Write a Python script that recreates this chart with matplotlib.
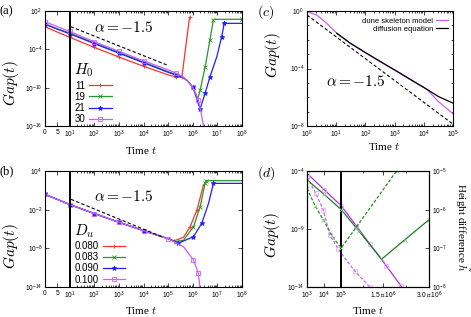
import numpy as np
import matplotlib
matplotlib.use('Agg')
import matplotlib.pyplot as plt
from matplotlib.ticker import NullLocator

plt.rcParams['mathtext.fontset'] = 'cm'
plt.rcParams['font.family'] = ['Liberation Sans', 'DejaVu Sans']

# ---- panel (a): gap vs time for several H0 (log10 of gap) ----
h0_labels = ['11', '19', '21', '30']
t_a11 = [0, 5, 10, 1e2, 1e3, 1e4, 1e5, 2e5, 3.6e5, 7.4e5]
g_a11 = [-0.45, -1.3, -2.1, -3.7, -5.2, -6.65, -8.0, -8.3, -8.4, 1.0]
t_a19 = [0, 5, 10, 1e2, 1e3, 1e4, 1e5, 2e5, 3.6e5, 6e5, 1e6, 1.3e6, 1.6e6, 2e6, 3.2e6, 5e6, 6.9e6, 8e6, 1e8]
g_a19 = [-0.03, -0.8, -1.45, -3.0, -4.5, -6.0, -7.5, -7.9, -8.25, -8.9, -9.9, -10.9, -11.7, -10.4, -6.7, -2.5, 0.6, 0.7, 0.7]
t_a21 = [0, 5, 10, 1e2, 1e3, 1e4, 1e5, 2e5, 3.6e5, 6e5, 1e6, 1.26e6, 1.66e6, 2e6, 3.16e6, 5e6, 9.5e6, 1.5e7, 1.9e7, 1e8]
g_a21 = [-0.03, -0.85, -1.55, -3.1, -4.6, -6.1, -7.6, -8.0, -8.3, -8.9, -9.95, -11.0, -12.5, -13.3, -10.9, -8.3, -5.15, -2.0, 0.07, 0.07]
t_a30 = [0, 5, 10, 1e2, 1e3, 1e4, 1e5, 2e5, 3.6e5, 6e5, 1e6, 1.3e6, 1.7e6, 2.2e6, 2.8e6]
g_a30 = [0.33, -0.45, -1.2, -2.8, -4.3, -5.8, -7.2, -7.7, -8.2, -8.9, -9.95, -10.9, -11.9, -14.0, -16.3]
guide_a_t = [11, 9e4]
guide_a_g = [-0.45, -6.45]

# ---- panel (b): gap vs time for several Du ----
du_labels = ['0.080', '0.083', '0.090', '0.100']
t_b080 = [0, 5, 10, 1e2, 1e3, 1e4, 1e5, 1.66e5, 4.2e5, 7.8e5, 1.48e6, 2.75e6]
g_b080 = [0.38, -0.4, -1.2, -2.6, -3.95, -5.25, -6.5, -6.85, -6.3, -4.65, -2.05, 1.9]
t_b083 = [0, 5, 10, 1e2, 1e3, 1e4, 1e5, 2e5, 4.2e5, 1.07e6, 2e6, 3.16e6, 3.6e6, 1e8]
g_b083 = [0.38, -0.4, -1.2, -2.6, -3.95, -5.25, -6.5, -6.95, -6.75, -4.65, -1.54, 2.1, 2.5, 2.5]
t_b090 = [0, 5, 10, 1e2, 1e3, 1e4, 1e5, 2.6e5, 1.07e6, 2.34e6, 4.4e6, 6.9e6, 1e8]
g_b090 = [0.38, -0.4, -1.2, -2.6, -3.95, -5.25, -6.5, -7.2, -6.2, -4.1, -1.0, 2.08, 2.08]
t_b100 = [0, 5, 10, 1e2, 1e3, 1e4, 1e5, 4.2e5, 1.07e6, 1.7e6, 2e6]
g_b100 = [0.38, -0.4, -1.2, -2.6, -3.95, -5.25, -6.5, -7.75, -9.8, -11.9, -14.5]
guide_b_t = [11.5, 6.5e4]
guide_b_g = [-0.4, -6.3]

# ---- panel (c): dune skeleton model vs diffusion equation ----
t_c = [1, 2.15, 4.7, 10.5, 29.5, 85, 316, 1175, 4365, 12600, 31600, 1e5]
g_dune = [-0.05, -0.28, -0.85, -1.55, -2.24, -2.82, -3.52, -4.2, -4.9, -5.44, -6.3, -7.15]
t_diff = [10.5, 29.5, 85, 316, 1175, 4365, 12600, 31600, 1e5]
g_diff = [-1.55, -2.22, -2.8, -3.5, -4.18, -4.88, -5.44, -5.95, -6.41]
guide_c_t = [1, 1e5]
guide_c_g = [-0.28, -7.87]

# ---- panel (d): gap (left) and height difference (right) ----
t_gap1 = [1e3, 1e4, 1.1e5, 6e5, 1.05e6, 1.6e6, 2.09e6]
g_gap1 = [-4.2, -5.6, -7.0, -8.7, -10.3, -12.2, -13.95]
t_gap2 = [1e3, 3.2e3, 9.1e3, 2.2e4, 6.9e4, 1.1e5, 5.5e5, 1.05e6]
g_gap2 = [-4.5, -5.9, -7.36, -9.5, -10.7, -11.1, -12.6, -14.0]
t_hd1 = [1e3, 1e4, 1.1e5, 7e5, 1.44e6, 2.2e6, 3e6]
g_hd1 = [-5.23, -5.6, -6.0, -6.56, -7.28, -6.78, -6.26]
t_hd2 = [1e3, 3e3, 9.1e3, 3.5e4, 1.1e5, 5.8e5, 1.93e6]
g_hd2 = [-5.45, -5.9, -6.26, -6.73, -6.99, -6.48, -5.0]

K = 1.79e-6


def fwd_ab(x):
    x = np.asarray(x, dtype=float)
    return np.where(x <= 10, x / 10.0, np.log10(np.maximum(x, 10.0)))


def inv_ab(y):
    y = np.asarray(y, dtype=float)
    return np.where(y <= 1, y * 10.0, 10.0 ** np.clip(y, 1, 300))


def fwd_d(x):
    x = np.asarray(x, dtype=float)
    return np.where(x <= 1e5, np.log10(np.clip(x, 1e-300, None)), 5 + (x - 1e5) * K)


def inv_d(y):
    y = np.asarray(y, dtype=float)
    return np.where(y <= 5, 10.0 ** np.clip(y, -300, 5), 1e5 + (y - 5) / K)


def p10(v):
    return 10.0 ** np.array(v)


def sup(e):
    return r'$\mathdefault{10^{%d}}$' % e


def style(ax):
    ax.tick_params(which='both', direction='in', top=True, right=True,
                   labelsize=4.8, width=0.5, pad=2)
    ax.tick_params(which='major', length=3)
    ax.tick_params(which='minor', length=1.5)
    for s in ax.spines.values():
        s.set_linewidth(0.8)


def labels(ax, xl, yl):
    # place axis labels by their centres
    ax.set_ylabel(r'$Gap(t)$', fontsize=11)
    ax.yaxis.label.set_verticalalignment('center')
    ax.yaxis.set_label_coords(*yl)
    ax.set_xlabel(r'Time $t$', fontdict=serif)
    ax.xaxis.label.set_verticalalignment('center')
    ax.xaxis.set_label_coords(*xl)


serif = {'family': 'Liberation Serif', 'size': 8}

fig = plt.figure(figsize=(4.71, 3.17), dpi=100)
ax_a = fig.add_axes([45 / 471, 1 - 126 / 317, 197 / 471, 115 / 317])
ax_b = fig.add_axes([45 / 471, 1 - 287 / 317, 197 / 471, 116 / 317])
ax_c = fig.add_axes([307 / 471, 1 - 126 / 317, 146 / 471, 115 / 317])
ax_d = fig.add_axes([307 / 471, 1 - 287 / 317, 122 / 471, 116 / 317])

cols = ['#ff3030', '#2a962a', '#2020ff', '#c860ff']
marks = ['+', 'x', '*', 's']
minor_log = [k * 10.0 ** d for d in range(1, 8) for k in range(2, 10)]

# panel (a)
for t, g, c, m, lab in zip([t_a11, t_a19, t_a21, t_a30], [g_a11, g_a19, g_a21, g_a30],
                           cols, marks, h0_labels):
    ax_a.plot(t, p10(g), color=c, lw=0.9, marker=m, ms=3.5, mew=0.6,
              mfc='none' if m == 's' else c, markevery=0.1, label=lab)
ax_a.plot(guide_a_t, p10(guide_a_g), 'k--', lw=0.8, dashes=(3, 2))

# panel (b)
for t, g, c, m, lab in zip([t_b080, t_b083, t_b090, t_b100], [g_b080, g_b083, g_b090, g_b100],
                           cols, marks, du_labels):
    ax_b.plot(t, p10(g), color=c, lw=0.9, marker=m, ms=3.5, mew=0.6,
              mfc='none' if m == 's' else c, markevery=0.1, label=lab)
ax_b.plot(guide_b_t, p10(guide_b_g), 'k--', lw=0.8, dashes=(3, 2))

for ax, ylo, yhi, yt, title, yl, xl, ay in [
        (ax_a, 1e-16, 1e2, [2, -4, -10, -16], r'$H_0$', (-0.175, 0.374), (0.485, -0.21), 0.86),
        (ax_b, 1e-14, 1e4, [4, -2, -8, -14], r'$D_u$', (-0.175, 0.353), (0.485, -0.20), 0.78)]:
    ax.set_xscale('function', functions=(fwd_ab, inv_ab))
    ax.set_yscale('log')
    ax.set_xlim(0, 1e8)
    ax.set_ylim(ylo, yhi)
    ax.set_xticks([0, 5] + [10.0 ** d for d in range(1, 9)])
    ax.set_xticklabels(['0', '5'] + [sup(d) for d in range(1, 9)])
    ax.set_xticks(minor_log, minor=True)
    ax.set_yticks([10.0 ** e for e in yt])
    ax.set_yticklabels([sup(e) for e in yt])
    ax.yaxis.set_minor_locator(NullLocator())
    style(ax)
    ax.axvline(10, color='k', lw=1.4)
    ax.text(0.40, ay, r'$\alpha = -1.5$', transform=ax.transAxes,
            ha='center', va='center', fontsize=11)
    labels(ax, xl, yl)
    leg = ax.legend(title=title, loc='upper left', bbox_to_anchor=(0.125, 0.60), frameon=False,
                    markerfirst=False, fontsize=7, title_fontsize=11, handlelength=2.3,
                    labelspacing=0.12, borderpad=0, handletextpad=0.4, numpoints=1)
    leg._legend_box.align = 'left'

# panel (c)
ax_c.plot(t_c, p10(g_dune), color='#c860ff', lw=0.9, label='dune skeleton model')
ax_c.plot(t_diff, p10(g_diff), color='k', lw=0.9, label='diffusion equation')
ax_c.plot(guide_c_t, p10(guide_c_g), 'k--', lw=0.8, dashes=(3, 2))
ax_c.set_xscale('log')
ax_c.set_yscale('log')
ax_c.set_xlim(1, 1e5)
ax_c.set_ylim(1e-8, 1)
ax_c.set_xticks([10.0 ** d for d in range(0, 6)])
ax_c.set_xticklabels([sup(d) for d in range(0, 6)])
ax_c.set_xticks([k * 10.0 ** d for d in range(0, 5) for k in range(2, 10)], minor=True)
ax_c.set_yticks([1, 1e-4, 1e-8])
ax_c.set_yticklabels([sup(0), sup(-4), sup(-8)])
ax_c.set_yticks([10.0 ** e for e in range(-7, 0) if e != -4], minor=True)
ax_c.set_yticklabels([], minor=True)
style(ax_c)
ax_c.text(0.336, 0.383, r'$\alpha = -1.5$', transform=ax_c.transAxes,
          ha='center', va='center', fontsize=11)
labels(ax_c, (0.527, -0.18), (-0.23, 0.617))
ax_c.legend(loc='upper right', bbox_to_anchor=(1.0, 0.99), frameon=False, markerfirst=False,
            fontsize=5.5, handlelength=1.5, labelspacing=0.1, borderpad=0.2,
            handletextpad=0.4)

# panel (d)
ax_d.set_xscale('function', functions=(fwd_d, inv_d))
ax_d.set_yscale('log')
ax_d.set_xlim(1e3, 3e6)
ax_d.set_ylim(1e-14, 1e-4)
tw = ax_d.twinx()
tw.set_yscale('log')
tw.set_ylim(1e-8, 1e-5)

ax_d.plot(t_gap1, p10(g_gap1), color='#b030e8', lw=0.9, marker='s', ms=3, mew=0.5,
          mfc='none', mec='#e8a0ff', markevery=0.12)
ax_d.plot(t_gap2, p10(g_gap2), color='#c860ff', lw=0.9, ls='--', dashes=(2.5, 1.5),
          marker='s', ms=3, mew=0.5, mfc='none', mec='#e8a0ff', markevery=0.12)
tw.plot(t_hd1, p10(g_hd1), color='#1e7d1e', lw=0.9, marker='x', ms=3, mew=0.5,
        mec='#90c890', markevery=0.12)
tw.plot(t_hd2, p10(g_hd2), color='#2a8a2a', lw=0.9, ls='--', dashes=(2.5, 1.5),
        marker='x', ms=3, mew=0.5, mec='#90c890', markevery=0.12)
ax_d.axvline(1e5, color='k', lw=1.4)

ax_d.set_xticks([1e3, 1e4, 1e5, 1.5e6, 3e6])
ax_d.set_xticklabels([sup(3), sup(4), sup(5), r'$\mathdefault{1.5\cdot10^{6}}$',
                      r'$\mathdefault{3.0\cdot10^{6}}$'])
ax_d.set_xticks([8.25e5, 2.25e6], minor=True)
ax_d.set_yticks([1e-4, 1e-9, 1e-14])
ax_d.set_yticklabels([sup(-4), sup(-9), sup(-14)])
ax_d.yaxis.set_minor_locator(NullLocator())
style(ax_d)
ax_d.tick_params(which='both', right=False)
tw.set_yticks([1e-5, 1e-6, 1e-7, 1e-8])
tw.set_yticklabels([sup(-5), sup(-6), sup(-7), sup(-8)])
tw.yaxis.set_minor_locator(NullLocator())
tw.tick_params(which='both', direction='in', labelsize=4.8, width=0.5, length=3, pad=2)
labels(ax_d, (0.5, -0.2), (-0.29, 0.45))
fig.text(462 / 471, 1 - 228 / 317, r'Height difference $\tilde{h}$', fontdict=serif,
         rotation=270, ha='center', va='center')

# panel letters
fig.text(0.0, 1 - 11 / 317, '(a)', fontdict={'family': 'Liberation Serif', 'size': 9}, va='center')
fig.text(0.0, 1 - 171 / 317, '(b)', fontdict={'family': 'Liberation Serif', 'size': 9}, va='center')
fig.text(257 / 471, 1 - 12 / 317, r'$(c)$', fontsize=10, va='center')
fig.text(257 / 471, 1 - 173 / 317, r'$(d)$', fontsize=10, va='center')

fig.savefig('out.png', dpi=100)
